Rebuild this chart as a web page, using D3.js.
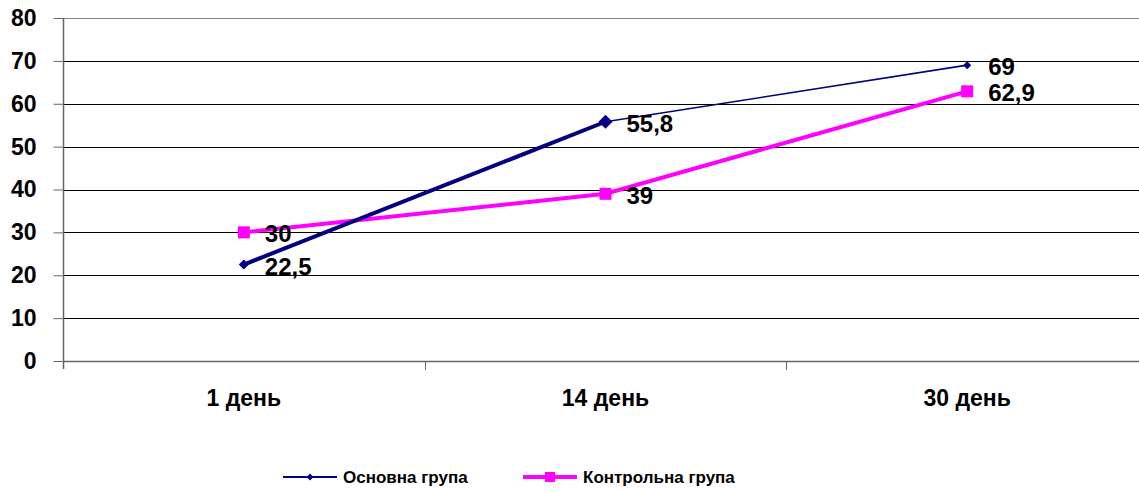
<!DOCTYPE html>
<html>
<head>
<meta charset="utf-8">
<script src="https://cdn.jsdelivr.net/npm/d3@7"></script>
<style>
  html, body { margin: 0; padding: 0; background: #fff; overflow: hidden; }
  svg { display: block; font-family: "Liberation Sans", Arial, sans-serif; }
</style>
</head>
<body>
<svg id="chart" width="1139" height="492"></svg>
<script>
// Chart data
const categories = ["1 день", "14 день", "30 день"];
const seriesNames = ["Основна група", "Контрольна група"];
const mainGroup = [22.5, 55.8, 69];
const controlGroup = [30, 39, 62.9];
const mainLabels = ["22,5", "55,8", "69"];
const controlLabels = ["30", "39", "62,9"];
const yTicks = [0, 10, 20, 30, 40, 50, 60, 70, 80];

const svg = d3.select("#chart");
const plot = { left: 63, right: 1148, top: 18, bottom: 361 };

const x = d3.scaleBand().domain(categories).range([plot.left, plot.right]).padding(0);
const y = d3.scaleLinear().domain([0, 80]).range([plot.bottom, plot.top]);
const cx = c => x(c) + x.bandwidth() / 2;

// Horizontal gridlines
svg.append("g").selectAll("line")
  .data(yTicks.filter(t => t > 0))
  .join("line")
  .attr("x1", plot.left).attr("x2", plot.right)
  .attr("y1", d => Math.round(y(d)) + 0.5).attr("y2", d => Math.round(y(d)) + 0.5)
  .attr("stroke", d => d === 80 ? "#888" : "#000")
  .attr("stroke-width", 1);

// Y axis
const yAxis = svg.append("g")
  .attr("transform", `translate(${plot.left + 0.5},0)`)
  .call(d3.axisLeft(y).tickValues(yTicks).tickSize(10).tickPadding(17));
yAxis.select(".domain").attr("stroke", "#666").attr("stroke-width", 1.5).attr("d", `M0,${plot.top}V${plot.bottom + 8}`);
yAxis.selectAll(".tick line").attr("stroke", "#666");
yAxis.selectAll(".tick text")
  .attr("font-size", 23).attr("font-weight", "bold").attr("fill", "#000");

// X axis
const xAxis = svg.append("g")
  .attr("transform", `translate(0,${plot.bottom + 0.5})`)
  .call(d3.axisBottom(x).tickSize(0).tickPadding(28));
xAxis.select(".domain").attr("stroke", "#666").attr("stroke-width", 1.5).attr("d", `M${plot.left},0H${plot.right}`);
xAxis.selectAll(".tick text")
  .attr("font-size", 23).attr("font-weight", "bold").attr("fill", "#000");
// Category boundary ticks
svg.append("g").selectAll("line")
  .data(categories.slice(1))
  .join("line")
  .attr("x1", d => Math.round(x(d)) + 0.5).attr("x2", d => Math.round(x(d)) + 0.5)
  .attr("y1", plot.bottom).attr("y2", plot.bottom + 9)
  .attr("stroke", "#666");

const mainColor = "#000080";
const ctrlColor = "#ff00ff";

// Control group line
const pts = vals => vals.map((v, i) => [cx(categories[i]), y(v)]);
const line = d3.line();
svg.append("path")
  .attr("d", line(pts(controlGroup)))
  .attr("fill", "none").attr("stroke", ctrlColor).attr("stroke-width", 4);

// Main group line: segments with differing widths
const mp = pts(mainGroup);
const segWidths = [4, 1.6];
svg.append("g").selectAll("path")
  .data(d3.pairs(mp))
  .join("path")
  .attr("d", d => line(d))
  .attr("fill", "none").attr("stroke", mainColor)
  .attr("stroke-width", (d, i) => segWidths[i]);

// Markers
const diamond = r => `M0,${-r}L${r},0L0,${r}L${-r},0Z`;
const diamondRadii = [5, 7, 4];
svg.append("g").selectAll("path")
  .data(mp)
  .join("path")
  .attr("transform", d => `translate(${d[0]},${d[1]})`)
  .attr("d", (d, i) => diamond(diamondRadii[i]))
  .attr("fill", mainColor);
svg.append("g").selectAll("rect")
  .data(pts(controlGroup))
  .join("rect")
  .attr("x", d => d[0] - 6).attr("y", d => d[1] - 6)
  .attr("width", 12).attr("height", 12)
  .attr("fill", ctrlColor);

// Data labels
const addLabels = (p, labels) => svg.append("g").selectAll("text")
  .data(p)
  .join("text")
  .attr("x", d => d[0] + 21).attr("y", d => d[1] + 10)
  .attr("font-size", 24).attr("font-weight", "bold").attr("fill", "#000")
  .text((d, i) => labels[i]);
addLabels(mp, mainLabels);
addLabels(pts(controlGroup), controlLabels);

// Legend
const legend = svg.append("g").attr("transform", "translate(283,477)");
const items = [
  { name: seriesNames[0], color: mainColor, width: 1.8, marker: "diamond", x: 0 },
  { name: seriesNames[1], color: ctrlColor, width: 4, marker: "square", x: 240 }
];
items.forEach(it => {
  const g = legend.append("g").attr("transform", `translate(${it.x},0)`);
  g.append("line").attr("x1", 0).attr("x2", 54).attr("y1", 0).attr("y2", 0)
    .attr("stroke", it.color).attr("stroke-width", it.width);
  if (it.marker === "diamond") {
    g.append("path").attr("transform", "translate(27,0)")
      .attr("d", diamond(3.5)).attr("fill", it.color);
  } else {
    g.append("rect").attr("x", 22).attr("y", -5).attr("width", 10).attr("height", 10).attr("fill", it.color);
  }
  g.append("text").attr("x", 60).attr("y", 6)
    .attr("font-size", 17).attr("font-weight", "bold").attr("fill", "#000")
    .text(it.name);
});
</script>
</body>
</html>
